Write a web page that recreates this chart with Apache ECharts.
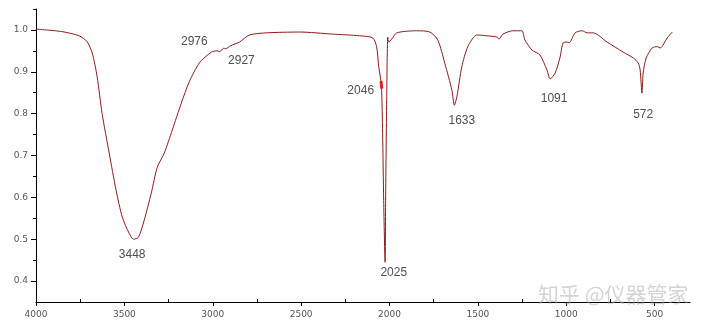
<!DOCTYPE html>
<html>
<head>
<meta charset="utf-8">
<script src="https://cdn.jsdelivr.net/npm/echarts@6/dist/echarts.min.js"></script>
<style>
html,body{margin:0;padding:0;background:#fff;}
#c{width:706px;height:328px;}
</style>
</head>
<body>
<div id="c"></div>
<script>
// Spectrum: wavenumber (cm-1) and transmittance
const wavenumbers = [4000,3853,3756,3711,3682,3654,3626,3586,3547,3512,3473,3448,3420,3388,3348,3314,3274,3229,3178,3133,3076,3008,2976,2960,2940,2927,2900,2849,2792,2696,2509,2322,2169,2095,2073,2061,2046,2039,2033,2025,2022,2016,2010,2005,1988,1959,1846,1772,1727,1687,1647,1633,1619,1591,1557,1506,1449,1392,1381,1358,1302,1251,1234,1194,1149,1109,1091,1063,1035,1018,995,984,950,910,882,848,769,678,621,593,582,572,565,548,514,485,468,429,400];
const transmittance = [1.002,0.996,0.986,0.972,0.945,0.888,0.800,0.706,0.617,0.553,0.514,0.500,0.505,0.545,0.610,0.672,0.706,0.761,0.825,0.876,0.921,0.947,0.950,0.948,0.956,0.955,0.962,0.971,0.988,0.993,0.995,0.990,0.986,0.981,0.960,0.912,0.868,0.753,0.593,0.445,0.593,0.833,0.983,0.971,0.978,0.993,0.998,0.995,0.976,0.920,0.856,0.820,0.840,0.912,0.960,0.988,0.986,0.983,0.978,0.990,0.998,0.998,0.976,0.952,0.940,0.904,0.883,0.897,0.935,0.969,0.971,0.969,0.993,0.998,0.993,0.993,0.971,0.947,0.933,0.921,0.904,0.849,0.897,0.933,0.957,0.960,0.957,0.981,0.995];

// Highlighted segment near 2046
const highlightWn = [2048, 2044];
const highlightT = [0.878, 0.860];

// Peak annotations: label text and where the text sits (data coordinates)
const peakLabels = ['2976','2927','3448','2046','2025','1633','1091','572'];
const peakLabelWn = [3104,2838,3456,2163,1976,1591,1069,565];
const peakLabelT = [0.971,0.926,0.462,0.856,0.419,0.782,0.835,0.797];

// Axis ticks
const xTicks = [4000,3500,3000,2500,2000,1500,1000,500];
const xMinorTicks = [3750,3250,2750,2250,1750,1250,750];
const yTicks = [0.4,0.5,0.6,0.7,0.8,0.9,1.0];
const yMinorTicks = [0.45,0.55,0.65,0.75,0.85,0.95,1.05];

const xMin = 300, xMax = 4000, yMin = 0.35, yMax = 1.05;

const lineData = wavenumbers.map((w, i) => [w, transmittance[i]]);
const hlData = highlightWn.map((w, i) => [w, highlightT[i]]);
const labelData = peakLabels.map((t, i) => ({ name: t, value: [peakLabelWn[i], peakLabelT[i]] }));

const axisColor = '#000';
const tickLabelStyle = { fontFamily: 'DejaVu Sans', fontSize: 9, color: '#555' };

const chart = echarts.init(document.getElementById('c'), null, { renderer: 'canvas' });
chart.setOption({
  animation: false,
  backgroundColor: '#fff',
  grid: { left: 36, right: 16, top: 9, bottom: 26, outerBoundsMode: 'none' },
  xAxis: [
    {
      type: 'value', inverse: true, min: xMin, max: xMax,
      axisLine: { show: true, lineStyle: { color: axisColor, width: 1 } },
      axisTick: { show: true, customValues: xTicks, length: 4, lineStyle: { color: axisColor } },
      axisLabel: Object.assign({ customValues: xTicks, margin: 8, formatter: v => String(v) }, tickLabelStyle),
      splitLine: { show: false }
    },
    {
      type: 'value', inverse: true, min: xMin, max: xMax, position: 'bottom',
      axisLine: { show: false },
      axisTick: { show: true, customValues: xMinorTicks, length: 3, inside: true, lineStyle: { color: axisColor } },
      axisLabel: { show: false },
      splitLine: { show: false }
    }
  ],
  yAxis: [
    {
      type: 'value', min: yMin, max: yMax,
      axisLine: { show: true, lineStyle: { color: axisColor, width: 1 } },
      axisTick: { show: true, customValues: yTicks, length: 5, lineStyle: { color: axisColor } },
      axisLabel: Object.assign({ customValues: yTicks, margin: 8, formatter: v => v.toFixed(1) }, tickLabelStyle),
      splitLine: { show: false }
    },
    {
      type: 'value', min: yMin, max: yMax, position: 'left',
      axisLine: { show: false },
      axisTick: { show: true, customValues: yMinorTicks, length: 3, lineStyle: { color: axisColor } },
      axisLabel: { show: false },
      splitLine: { show: false }
    }
  ],
  graphic: [
    {
      type: 'text', left: 538, top: 284, z: 100,
      style: { text: '知乎 @仪器管家', fontFamily: 'Noto Sans CJK SC', fontSize: 21, fill: 'rgba(170,170,170,0.5)' }
    }
  ],
  series: [
    {
      type: 'line', data: lineData, xAxisIndex: 0, yAxisIndex: 0,
      showSymbol: false, symbol: 'none', smooth: 0.25,
      lineStyle: { color: '#8a1c1c', width: 1 }
    },
    {
      type: 'line', data: hlData, xAxisIndex: 0, yAxisIndex: 0,
      showSymbol: false, symbol: 'none',
      lineStyle: { color: '#e0201e', width: 3 }
    },
    {
      type: 'scatter', data: labelData, xAxisIndex: 0, yAxisIndex: 0,
      symbolSize: 1, itemStyle: { color: 'rgba(0,0,0,0)' },
      label: {
        show: true, position: 'inside', formatter: p => p.name,
        fontFamily: 'Liberation Sans', fontSize: 12, color: '#222'
      }
    }
  ]
});
</script>
</body>
</html>
